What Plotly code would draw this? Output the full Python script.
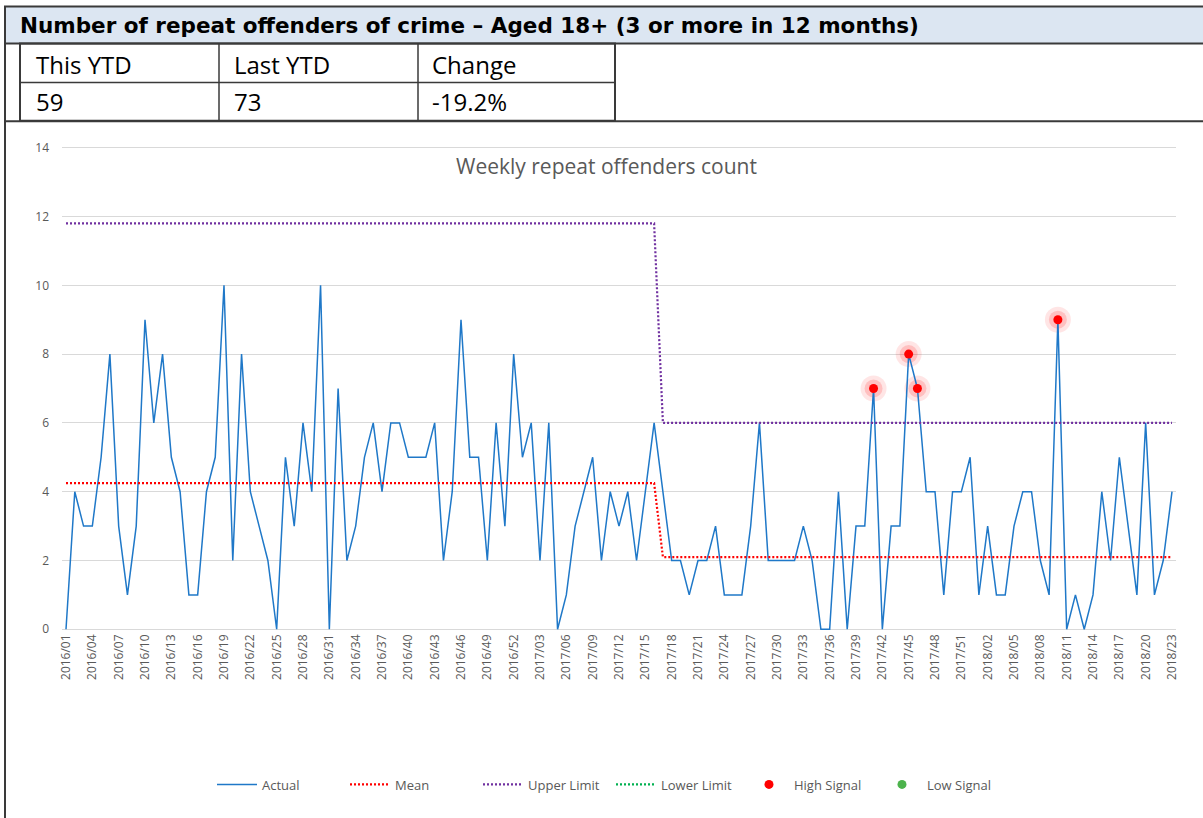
import plotly.graph_objects as go

# ---------------- data ----------------
weeks = ([f"2016/{w:02d}" for w in range(1, 53)] +
         [f"2017/{w:02d}" for w in range(1, 53)] +
         [f"2018/{w:02d}" for w in range(1, 24)])

actual = [0, 4, 3, 3, 5, 8, 3, 1, 3, 9, 6, 8, 5, 4, 1, 1, 4, 5, 10, 2, 8, 4, 3, 2, 0, 5, 3, 6, 4, 10, 0, 7,
          2, 3, 5, 6, 4, 6, 6, 5, 5, 5, 6, 2, 4, 9, 5, 5, 2, 6, 3, 8, 5, 6, 2, 6, 0, 1, 3, 4, 5, 2, 4, 3,
          4, 2, 4, 6, 4, 2, 2, 1, 2, 2, 3, 1, 1, 1, 3, 6, 2, 2, 2, 2, 3, 2, 0, 0, 4, 0, 3, 3, 7, 0, 3, 3,
          8, 7, 4, 4, 1, 4, 4, 5, 1, 3, 1, 1, 3, 4, 4, 2, 1, 9, 0, 1, 0, 1, 4, 2, 5, 3, 1, 6, 1, 2, 4]

phase_split = 68           # first week of the second control period
mean_values = [4.25, 2.1]
upper_values = [11.8, 6.0]
lower_values = [-3.3, -1.8]
high_signal_weeks = ["2017/41", "2017/45", "2017/46", "2018/10"]
low_signal_weeks = []

title_text = "Number of repeat offenders of crime \u2013 Aged 18+ (3 or more in 12 months)"
table_header = ["This YTD", "Last YTD", "Change"]
table_values = ["59", "73", "-19.2%"]
chart_title = "Weekly repeat offenders count"

# ---------------- derived series ----------------
n = len(actual)
xs = list(range(n))
mean = [mean_values[0] if i < phase_split else mean_values[1] for i in xs]
upper = [upper_values[0] if i < phase_split else upper_values[1] for i in xs]
lower = [lower_values[0] if i < phase_split else lower_values[1] for i in xs]
high = [actual[i] if weeks[i] in high_signal_weeks else None for i in xs]
low = [actual[i] if weeks[i] in low_signal_weeks else None for i in xs]

# ---------------- geometry (pixels) ----------------
W, H = 1203, 818
L, R, T, B = 62, 1176, 146.3, 630.7

def px(x):
    return (x - L) / (R - L)

def py(y):
    return (B - y) / (B - T)

FONT = "Open Sans"
GREY = "#595959"

fig = go.Figure()

# halo for high signals
fig.add_trace(go.Scatter(x=xs, y=high, mode="markers", showlegend=False, hoverinfo="skip",
                         marker=dict(size=26, color="rgba(255,0,0,0.10)")))
fig.add_trace(go.Scatter(x=xs, y=high, mode="markers", showlegend=False, hoverinfo="skip",
                         marker=dict(size=18, color="rgba(255,0,0,0.16)")))

fig.add_trace(go.Scatter(x=xs, y=actual, mode="lines", name="Actual",
                         line=dict(color="#1F78C8", width=1.5)))
fig.add_trace(go.Scatter(x=xs, y=mean, mode="lines", name="Mean",
                         line=dict(color="#FF0000", width=2.2, dash="2px,2px")))
fig.add_trace(go.Scatter(x=xs, y=upper, mode="lines", name="Upper Limit",
                         line=dict(color="#7030A0", width=2.2, dash="2px,2px")))
fig.add_trace(go.Scatter(x=xs, y=lower, mode="lines", name="Lower Limit",
                         line=dict(color="#00B050", width=2.2, dash="2px,2px")))
fig.add_trace(go.Scatter(x=xs, y=high, mode="markers", name="High Signal",
                         marker=dict(size=9, color="#FF0000")))
fig.add_trace(go.Scatter(x=xs, y=[None] * n if not low_signal_weeks else low, mode="markers",
                         name="Low Signal", marker=dict(size=9, color="#4CB34C")))

tick_idx = list(range(0, n, 3))

fig.update_xaxes(range=[-0.456, n - 1 + 0.456], tickmode="array", tickvals=tick_idx,
                 ticktext=[weeks[i] for i in tick_idx], tickangle=-90, showgrid=False,
                 zeroline=False, showline=False, ticks="",
                 tickfont=dict(family=FONT, size=12, color=GREY))
fig.update_yaxes(range=[-0.05, 14.05], tickvals=list(range(0, 15, 2)), showgrid=True,
                 gridcolor="#D9D9D9", gridwidth=1, zeroline=False, showline=False, ticks="",
                 ticklabelstandoff=12, tickfont=dict(family=FONT, size=12, color=GREY))

shapes = []
line_col = "#3A3A3A"
# header bar
shapes.append(dict(type="rect", xref="paper", yref="paper", x0=px(5), x1=px(1215), y0=py(44), y1=py(7),
                   fillcolor="#DCE6F2", line=dict(color=line_col, width=2), layer="below"))
# left border down whole page
shapes.append(dict(type="line", xref="paper", yref="paper", x0=px(5), x1=px(5), y0=py(7), y1=py(830),
                   line=dict(color=line_col, width=2)))
# table
shapes.append(dict(type="rect", xref="paper", yref="paper", x0=px(20), x1=px(615), y0=py(121), y1=py(44),
                   line=dict(color=line_col, width=2)))
shapes.append(dict(type="line", xref="paper", yref="paper", x0=px(20), x1=px(615), y0=py(83), y1=py(83),
                   line=dict(color=line_col, width=1.5)))
for xv in (219, 418):
    shapes.append(dict(type="line", xref="paper", yref="paper", x0=px(xv), x1=px(xv), y0=py(44), y1=py(121),
                       line=dict(color=line_col, width=1.5)))
shapes.append(dict(type="line", xref="paper", yref="paper", x0=px(5), x1=px(1215), y0=py(121.5), y1=py(121.5),
                   line=dict(color=line_col, width=2)))

annotations = []
annotations.append(dict(text=f"<b>{title_text}</b>", xref="paper", yref="paper", x=px(18), y=py(26),
                        xanchor="left", yanchor="middle", showarrow=False,
                        font=dict(family="DejaVu Sans", size=21.5, color="#000000")))
col_x = [34, 232, 430]
for cx, h, v in zip(col_x, table_header, table_values):
    annotations.append(dict(text=h, xref="paper", yref="paper", x=px(cx), y=py(65),
                            xanchor="left", yanchor="middle", showarrow=False,
                            font=dict(family=FONT, size=24, color="#000000")))
    annotations.append(dict(text=v, xref="paper", yref="paper", x=px(cx), y=py(102),
                            xanchor="left", yanchor="middle", showarrow=False,
                            font=dict(family=FONT, size=24, color="#000000")))
annotations.append(dict(text=chart_title, xref="paper", yref="paper", x=px(606), y=py(166),
                        xanchor="center", yanchor="middle", showarrow=False,
                        font=dict(family=FONT, size=21, color=GREY)))

fig.update_layout(
    width=W, height=H, autosize=False,
    margin=dict(l=L, r=W - R, t=T, b=H - B, pad=0),
    paper_bgcolor="white", plot_bgcolor="white",
    shapes=shapes, annotations=annotations,
    showlegend=True,
    legend=dict(orientation="h", x=px(611), xanchor="center", y=py(784), yanchor="middle",
                font=dict(family=FONT, size=13, color=GREY), itemwidth=40,
                entrywidth=78, entrywidthmode="pixels",
                traceorder="normal", bgcolor="rgba(0,0,0,0)"),
    hovermode=False,
)

fig.write_html("out.html", config={"displayModeBar": False},
               post_script="document.body.style.margin='0';document.body.style.overflow='hidden';")
